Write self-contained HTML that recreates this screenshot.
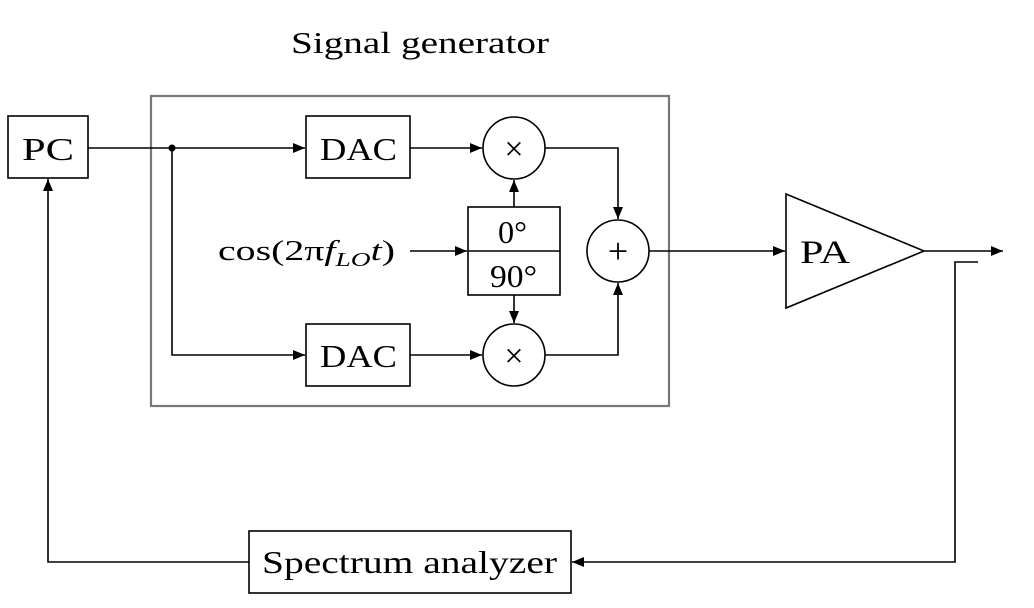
<!DOCTYPE html>
<html><head><style>body{margin:0;background:#fff}svg{display:block}text{font-family:"Liberation Serif",serif;fill:#000}</style></head>
<body>
<svg width="1034" height="608" viewBox="0 0 1034 608">
<defs><marker id="a" markerWidth="12" markerHeight="10" refX="12" refY="5" orient="auto" markerUnits="userSpaceOnUse"><path d="M0,0 L12,5 L0,10 z" fill="#000"/></marker></defs>
<g fill="none" stroke="#000" stroke-width="1.6">
<rect x="151" y="96" width="518" height="310" stroke="#777" stroke-width="2.2"/>
<rect x="8" y="116" width="80" height="62"/>
<rect x="306" y="116" width="104" height="62"/>
<rect x="306" y="324" width="104" height="62"/>
<rect x="468" y="207" width="92" height="88"/>
<line x1="468" y1="251" x2="560" y2="251"/>
<circle cx="514" cy="148" r="31"/>
<circle cx="514" cy="355" r="31"/>
<circle cx="618" cy="251" r="31"/>
<polygon points="786,194 924,251 786,308"/>
<rect x="249" y="531" width="322" height="62"/>
<path d="M88,148 H305" marker-end="url(#a)"/>
<path d="M172,148 V355 H305" marker-end="url(#a)"/>
<path d="M410,148 H482" marker-end="url(#a)"/>
<path d="M410,355 H482" marker-end="url(#a)"/>
<path d="M410,251 H467" marker-end="url(#a)"/>
<path d="M514,207 V180" marker-end="url(#a)"/>
<path d="M514,295 V323" marker-end="url(#a)"/>
<path d="M545,148 H618 V219" marker-end="url(#a)"/>
<path d="M545,355 H618 V283" marker-end="url(#a)"/>
<path d="M649,251 H785" marker-end="url(#a)"/>
<path d="M924,251 H1003" marker-end="url(#a)"/>
<path d="M978,262 H955 V562 H572" marker-end="url(#a)"/>
<path d="M249,562 H48 V179" marker-end="url(#a)"/>
</g>
<circle cx="172" cy="148" r="3.5" fill="#000"/>
<g font-size="32" lengthAdjust="spacingAndGlyphs">
<text x="291" y="53" font-size="31" textLength="258" lengthAdjust="spacingAndGlyphs">Signal generator</text>
<text x="22" y="160" textLength="52" lengthAdjust="spacingAndGlyphs">PC</text>
<text x="320" y="160" textLength="77" lengthAdjust="spacingAndGlyphs">DAC</text>
<text x="320" y="367" textLength="77" lengthAdjust="spacingAndGlyphs">DAC</text>
<text x="498" y="243" textLength="29" lengthAdjust="spacingAndGlyphs">0°</text>
<text x="490" y="287" textLength="47" lengthAdjust="spacingAndGlyphs">90°</text>
<text x="514" y="160" font-size="34" text-anchor="middle">×</text>
<text x="514" y="367" font-size="34" text-anchor="middle">×</text>
<text x="618" y="263" font-size="36" text-anchor="middle">+</text>
<text x="800" y="263" font-size="33" textLength="50" lengthAdjust="spacingAndGlyphs">PA</text>
<text x="262" y="573" textLength="295" lengthAdjust="spacingAndGlyphs">Spectrum analyzer</text>
<text x="218" y="260" font-size="29" textLength="177" lengthAdjust="spacingAndGlyphs">cos(2π<tspan font-style="italic">f</tspan><tspan font-style="italic" font-size="20" dy="6">LO</tspan><tspan font-style="italic" dy="-6">t</tspan>)</text>
</g>
</svg>
</body></html>
